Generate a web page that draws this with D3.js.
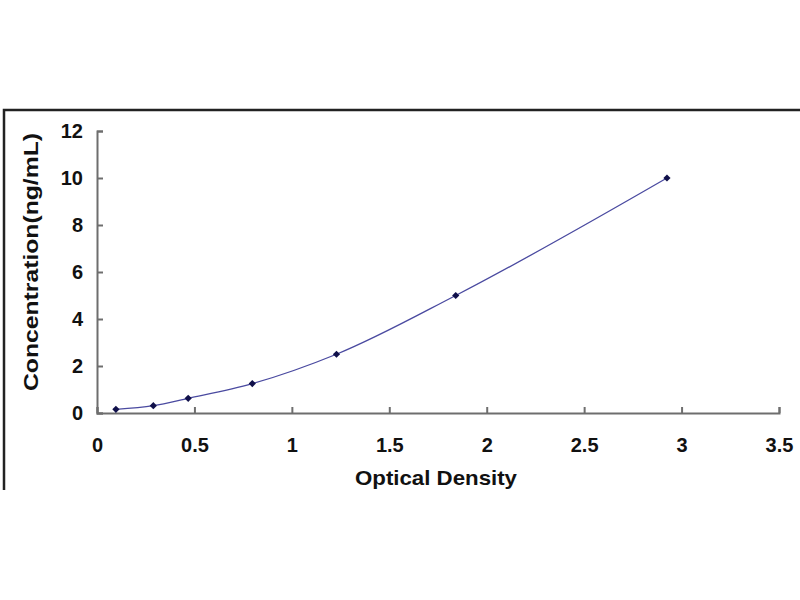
<!DOCTYPE html>
<html lang="en">
<head>
    <meta charset="UTF-8">
    <title>standard curve</title>
    <script src="https://cdn.jsdelivr.net/npm/d3@7"></script>
    <style>
        body { margin: 0; background: #fff; }
        text { font-family: "Liberation Sans", Arial, sans-serif; font-weight: bold; fill: #111; }
    </style>
</head>
<body>
    <svg id="main" width="800" height="600"></svg>
    <script>
        // standard points
        let od = [0.097, 0.289, 0.468, 0.797, 1.229, 1.841, 2.925]
        let conc = [0.156, 0.312, 0.625, 1.25, 2.5, 5, 10]
        let xTicks = [0, 0.5, 1, 1.5, 2, 2.5, 3, 3.5]
        let yTicks = [0, 2, 4, 6, 8, 10, 12]

        let svg = d3.select("#main")

        // outer frame (top and left edges only)
        svg.append("path")
            .attr("d", "M4,490 V110 H800")
            .attr("fill", "none")
            .attr("stroke", "#222")
            .attr("stroke-width", 2.5)

        let x = d3.scaleLinear().domain([0, 3.5]).range([97, 779])
        let y = d3.scaleLinear().domain([0, 12]).range([413, 131])

        let axisColor = "#6e6e6e"

        // x axis, ticks pointing up
        let gx = svg.append("g")
            .attr("transform", "translate(0," + y(0) + ")")
            .call(d3.axisTop(x).tickValues(xTicks).tickSize(6).tickFormat(d3.format("")))
        gx.select(".domain").attr("stroke", axisColor).attr("stroke-width", 2)
        gx.selectAll(".tick line").attr("stroke", axisColor).attr("stroke-width", 2)
        gx.selectAll(".tick text")
            .attr("y", 39)
            .attr("dy", 0)
            .attr("font-size", 20)
            .attr("font-family", null)

        // y axis, ticks pointing right
        let gy = svg.append("g")
            .attr("transform", "translate(" + x(0) + ",0)")
            .call(d3.axisRight(y).tickValues(yTicks).tickSize(6))
        gy.select(".domain").attr("stroke", axisColor).attr("stroke-width", 2)
        gy.selectAll(".tick line").attr("stroke", axisColor).attr("stroke-width", 2)
        gy.selectAll(".tick text")
            .attr("x", -14)
            .attr("text-anchor", "end")
            .attr("font-size", 20)
            .attr("font-family", null)

        // fitted curve
        let pts = d3.zip(od, conc)
        svg.append("path")
            .datum(pts)
            .attr("fill", "none")
            .attr("stroke", "#4a4aa0")
            .attr("stroke-width", 1.3)
            .attr("d", d3.line()
                .x(d => x(d[0]))
                .y(d => y(d[1]))
                .curve(d3.curveMonotoneX))

        // markers
        svg.selectAll(".pt")
            .data(pts)
            .join("path")
            .attr("class", "pt")
            .attr("transform", d => "translate(" + x(d[0]) + "," + y(d[1]) + ") rotate(45)")
            .attr("d", d3.symbol(d3.symbolSquare, 26))
            .attr("fill", "#10104a")

        // axis titles
        svg.append("text")
            .attr("x", 436)
            .attr("y", 485)
            .attr("text-anchor", "middle")
            .attr("font-size", 21)
            .attr("textLength", 162)
            .attr("lengthAdjust", "spacingAndGlyphs")
            .text("Optical Density")

        svg.append("text")
            .attr("transform", "translate(38,262) rotate(-90)")
            .attr("text-anchor", "middle")
            .attr("font-size", 20)
            .attr("textLength", 258)
            .attr("lengthAdjust", "spacingAndGlyphs")
            .text("Concentration(ng/mL)")
    </script>
</body>
</html>
